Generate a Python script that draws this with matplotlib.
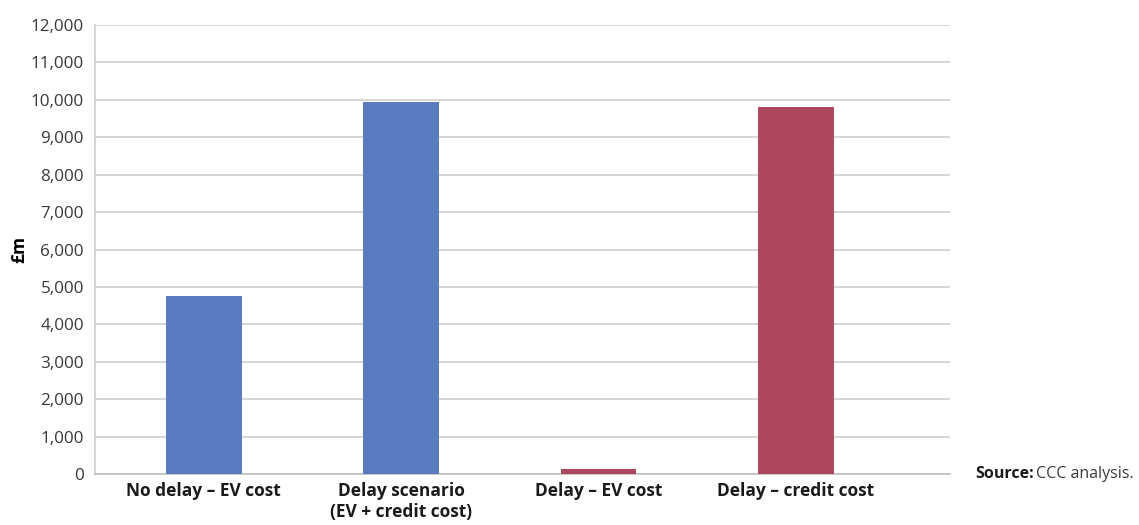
import matplotlib.pyplot as plt
from matplotlib.ticker import FuncFormatter

categories = ['No delay – EV cost', 'Delay scenario\n(EV + credit cost)',
              'Delay – EV cost', 'Delay – credit cost']
values = [4760, 9930, 130, 9810]
bar_colors = ['#5A7BBE', '#5A7BBE', '#AD475E', '#AD475E']

plt.rcParams['font.family'] = ['Open Sans', 'DejaVu Sans']

fig = plt.figure(figsize=(11.39, 5.25), dpi=100)
ax = fig.add_axes([0.0834, 0.0971, 0.7507, 0.8553])

x = list(range(len(categories)))
ax.bar(x, values, width=0.384, color=bar_colors, zorder=3)

ax.set_xlim(-0.55, 3.78)
ax.set_ylim(0, 12000)
ax.set_yticks(range(0, 12001, 1000))
ax.yaxis.set_major_formatter(FuncFormatter(lambda v, p: f'{int(v):,}'))
ax.set_xticks(x)
ax.set_xticklabels(categories, fontsize=12.5, fontweight='bold', color='#1a1a1a',
                   linespacing=1.2)
ax.tick_params(axis='y', labelsize=12.3, length=0, pad=8)
ax.tick_params(axis='x', length=0, pad=6)
for lbl in ax.get_yticklabels():
    lbl.set_color('#3a3a3a')

ax.grid(axis='y', color='#CFCFCF', linewidth=1.2, zorder=0)
for side in ['top', 'right']:
    ax.spines[side].set_visible(False)
ax.spines['left'].set_color('#CFCFCF')
ax.spines['bottom'].set_color('#BFBFBF')
ax.spines['left'].set_linewidth(1.2)
ax.spines['bottom'].set_linewidth(1.2)

ax.set_ylabel('£m', fontsize=12.5, fontweight='bold', labelpad=2)

src = fig.text(0.856, 0.097, 'Source:', fontsize=11.5, fontweight='bold',
               va='center', ha='left', color='#1a1a1a')
ax.annotate('CCC analysis.', xy=(1, 0.5), xycoords=src, xytext=(2, 0),
            textcoords='offset points', fontsize=11.5, va='center', ha='left',
            color='#3a3a3a', annotation_clip=False)

fig.savefig('out.png', dpi=100)
